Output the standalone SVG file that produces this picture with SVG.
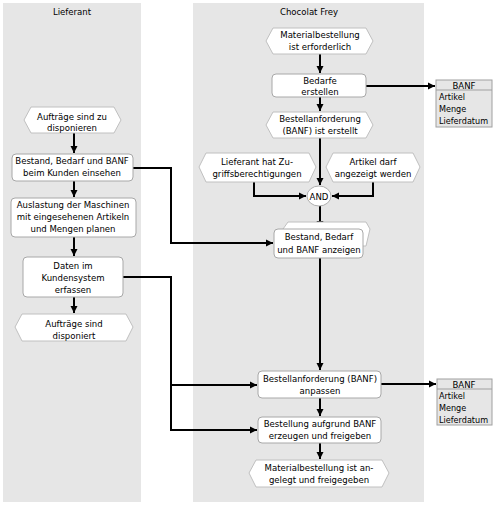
<svg xmlns="http://www.w3.org/2000/svg" width="498" height="507" viewBox="0 0 498 507">
<defs>
<style>
.lane{fill:#e6e6e6;stroke:none}
.fn{fill:#ffffff;stroke:#a8a8a8;stroke-width:1}
.ev{fill:#ffffff;stroke:#c0c0c0;stroke-width:1}
.ent{fill:#e6e6e6;stroke:#a0a0a0;stroke-width:1}
.t{font-family:"DejaVu Sans Condensed","Liberation Sans",sans-serif;font-size:9.5px;fill:#000;text-anchor:middle}
.tl{font-family:"DejaVu Sans Condensed","Liberation Sans",sans-serif;font-size:9px;fill:#000;text-anchor:start}
.c{fill:none;stroke:#000;stroke-width:2}
</style>
<marker id="ah" markerUnits="userSpaceOnUse" markerWidth="8" markerHeight="8" refX="7" refY="4" orient="auto">
<path d="M0,0.5 L7,4 L0,7.5 Z" fill="#000"/>
</marker>
</defs>
<rect width="498" height="507" fill="#ffffff"/>
<g id="lanes">
<rect class="lane" x="3" y="3" width="138" height="499"/>
<rect class="lane" x="193" y="3" width="231" height="499"/>
<text class="t" x="72" y="15">Lieferant</text>
<text class="t" x="309" y="15">Chocolat Frey</text>
</g>
<g id="connectors">
<path class="c" d="M320,54 V73" marker-end="url(#ah)"/>
<path class="c" d="M320,97 V111" marker-end="url(#ah)"/>
<path class="c" d="M320,138 V185" marker-end="url(#ah)"/>
<path class="c" d="M254,182 V196 H306" marker-end="url(#ah)"/>
<path class="c" d="M373,182 V196 H332" marker-end="url(#ah)"/>
<path class="c" d="M320,206 V228" marker-end="url(#ah)"/>
<path class="c" d="M320,258 V370" marker-end="url(#ah)"/>
<path class="c" d="M320,398 V416" marker-end="url(#ah)"/>
<path class="c" d="M320,443 V459" marker-end="url(#ah)"/>
<path class="c" d="M366,86 H435" marker-end="url(#ah)"/>
<path class="c" d="M381,384 H436" marker-end="url(#ah)"/>
<path class="c" d="M74,133 V153" marker-end="url(#ah)"/>
<path class="c" d="M74,181 V197" marker-end="url(#ah)"/>
<path class="c" d="M74,237 V256" marker-end="url(#ah)"/>
<path class="c" d="M74,297 V313" marker-end="url(#ah)"/>
<path class="c" d="M133,168 H171 V243 H273" marker-end="url(#ah)"/>
<path class="c" d="M123,277 H171 V430 H257" marker-end="url(#ah)"/>
<path class="c" d="M171,385 H257" marker-end="url(#ah)"/>
</g>
<g id="n-material-erforderlich">
<path class="ev" d="M273,28 H366 L373,41 L366,54 H273 L266,41 Z"/>
<text class="t" x="320" y="38">Materialbestellung</text>
<text class="t" x="320" y="50">ist erforderlich</text>
</g>
<g id="n-bedarfe-erstellen">
<rect class="fn" x="272" y="74" width="94" height="23" rx="4"/>
<text class="t" x="320" y="84">Bedarfe</text>
<text class="t" x="320" y="95">erstellen</text>
</g>
<g id="n-banf-erstellt">
<path class="ev" d="M273,112 H366 L373,125 L366,138 H273 L266,125 Z"/>
<text class="t" x="320" y="122">Bestellanforderung</text>
<text class="t" x="320" y="134">(BANF) ist erstellt</text>
</g>
<g id="n-lieferant-zugriff">
<path class="ev" d="M206,153 H309 L316,167 L309,182 H206 L199,167 Z"/>
<text class="t" x="257" y="165">Lieferant hat Zu-</text>
<text class="t" x="257" y="177">griffsberechtigungen</text>
</g>
<g id="n-artikel-angezeigt">
<path class="ev" d="M333,153 H413 L420,167 L413,182 H333 L326,167 Z"/>
<text class="t" x="373" y="165">Artikel darf</text>
<text class="t" x="373" y="177">angezeigt werden</text>
</g>
<g id="n-and">
<ellipse cx="319" cy="196" rx="12" ry="10" fill="#ffffff" stroke="#b0b0b0" stroke-width="1"/>
<text class="t" x="319" y="199.5">AND</text>
</g>
<g id="n-anzeigen">
<path class="ev" d="M288,222 H366 L370,229 L366,246 H288 L283,229 Z"/>
<rect class="fn" x="274" y="229" width="89" height="29" rx="4"/>
<text class="t" x="319" y="240">Bestand, Bedarf</text>
<text class="t" x="319" y="253">und BANF anzeigen</text>
</g>
<g id="n-banf-anpassen">
<rect class="fn" x="258" y="371" width="123" height="27" rx="4"/>
<text class="t" x="320" y="382">Bestellanforderung (BANF)</text>
<text class="t" x="320" y="394">anpassen</text>
</g>
<g id="n-bestellung-erzeugen">
<rect class="fn" x="258" y="417" width="123" height="26" rx="4"/>
<text class="t" x="320" y="427">Bestellung aufgrund BANF</text>
<text class="t" x="320" y="439">erzeugen und freigeben</text>
</g>
<g id="n-material-angelegt">
<path class="ev" d="M256,460 H382 L389,473 L382,487 H256 L249,473 Z"/>
<text class="t" x="319" y="471">Materialbestellung ist an-</text>
<text class="t" x="319" y="483">gelegt und freigegeben</text>
</g>
<g id="n-banf-data-1">
<rect class="ent" x="436" y="80" width="56" height="47"/>
<line x1="436" y1="90" x2="492" y2="90" stroke="#a0a0a0" stroke-width="1"/>
<text class="t" x="464" y="88.5">BANF</text>
<text class="tl" x="439" y="100">Artikel</text>
<text class="tl" x="439" y="112">Menge</text>
<text class="tl" x="439" y="124">Lieferdatum</text>
</g>
<g id="n-banf-data-2">
<rect class="ent" x="437" y="379" width="55" height="46"/>
<line x1="437" y1="389" x2="492" y2="389" stroke="#a0a0a0" stroke-width="1"/>
<text class="t" x="464" y="387.5">BANF</text>
<text class="tl" x="439" y="399">Artikel</text>
<text class="tl" x="439" y="411">Menge</text>
<text class="tl" x="439" y="423">Lieferdatum</text>
</g>
<g id="n-auftraege-zu-disponieren">
<path class="ev" d="M31,107 H114 L121,120 L114,133 H31 L24,120 Z"/>
<text class="t" x="72" y="120">Aufträge sind zu</text>
<text class="t" x="72" y="131">disponieren</text>
</g>
<g id="n-bestand-einsehen">
<rect class="fn" x="12" y="154" width="121" height="27" rx="4"/>
<text class="t" x="72" y="164">Bestand, Bedarf und BANF</text>
<text class="t" x="72" y="176">beim Kunden einsehen</text>
</g>
<g id="n-auslastung">
<rect class="fn" x="11" y="198" width="125" height="39" rx="4"/>
<text class="t" x="73" y="208">Auslastung der Maschinen</text>
<text class="t" x="73" y="220">mit eingesehenen Artikeln</text>
<text class="t" x="73" y="232">und Mengen planen</text>
</g>
<g id="n-daten-erfassen">
<rect class="fn" x="23" y="257" width="100" height="40" rx="4"/>
<text class="t" x="73" y="269">Daten im</text>
<text class="t" x="73" y="281">Kundensystem</text>
<text class="t" x="73" y="293">erfassen</text>
</g>
<g id="n-auftraege-disponiert">
<path class="ev" d="M22,314 H126 L133,327 L126,341 H22 L15,327 Z"/>
<text class="t" x="74" y="327">Aufträge sind</text>
<text class="t" x="74" y="339">disponiert</text>
</g>
</svg>
